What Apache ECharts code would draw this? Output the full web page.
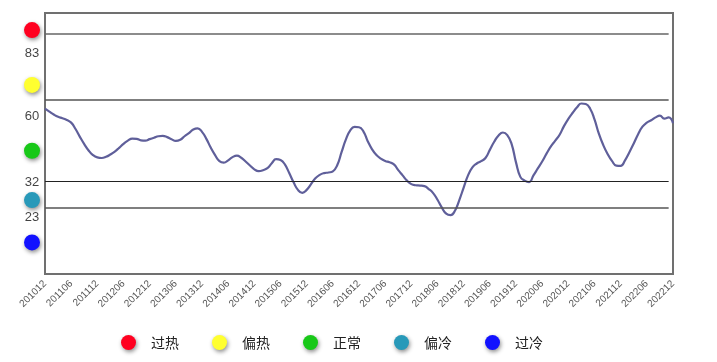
<!DOCTYPE html>
<html><head><meta charset="utf-8">
<script src="https://cdn.jsdelivr.net/npm/echarts@6/dist/echarts.min.js"></script>
<style>html,body{margin:0;padding:0;background:#fff}#c{width:717px;height:362px}</style>
</head><body><div id="c"></div>
<script>
// months 201012 .. 202212
const categories = [];
for (let y = 2010, m = 12; y < 2023; ) {
  categories.push(String(y) + String(m).padStart(2, '0'));
  m++; if (m > 12) { m = 1; y++; }
}
const indexValues = [
  57.0,56.0,55.0,54.2,53.7,53.1,52.2,50.0,47.3,44.8,
  42.6,41.0,40.2,40.0,40.4,41.2,42.2,43.5,44.9,46.0,
  46.7,46.6,46.1,46.0,46.5,47.0,47.5,47.6,47.2,46.5,
  45.9,46.3,47.5,48.6,49.8,50.2,49.0,46.6,43.6,41.0,
  38.9,38.4,39.2,40.3,40.8,40.1,38.8,37.4,36.1,35.5,
  35.8,36.5,38.2,39.6,39.3,37.8,34.8,31.6,29.0,28.0,
  29.0,31.0,33.0,34.2,34.8,35.0,35.4,37.5,42.0,46.4,
  49.5,50.7,50.6,49.2,45.8,43.0,41.0,39.8,39.0,38.5,
  37.8,35.8,34.0,32.2,31.0,30.6,30.5,30.3,29.3,27.9,
  25.6,22.9,20.8,20.3,21.8,25.5,29.8,34.0,36.8,38.1,
  38.9,40.0,42.8,45.6,47.8,48.8,47.9,44.8,38.5,33.5,
  32.2,31.7,34.0,36.4,38.8,41.5,44.0,46.0,48.0,51.0,
  53.5,55.6,57.5,58.8,58.6,57.0,53.3,48.4,44.5,41.4,
  39.0,37.4,37.3,39.2,42.0,45.0,48.2,50.8,52.2,53.0,
  54.0,54.6,53.6,54.0,52.0
];
const thresholds = [83, 60, 32, 23];
const thresholdLabelPos = [76.1, 54.5, 31.5, 19.6];
const levelNames = ['过热', '偏热', '正常', '偏冷', '过冷'];
const levelDotPos = [84.1, 65.2, 42.5, 25.5, 10.9];
const levelColors = ['#ff0020', '#ffff30', '#18c818', '#2899b9', '#1212ff'];
const yMax = 90;

const chart = echarts.init(document.getElementById('c'), null, {renderer: 'canvas'});
const thrStyle = [
  {color: '#666', width: 1.5},
  {color: '#555', width: 1.5},
  {color: '#222', width: 1.2},
  {color: '#555', width: 1.5}
];
const series = [{
  type: 'line', name: 'index', xAxisIndex: 0, yAxisIndex: 0,
  data: indexValues, smooth: true, showSymbol: false, symbol: 'none',
  lineStyle: {color: '#5f5f9a', width: 2.2}, z: 3,
  markLine: {
    silent: true, symbol: 'none', label: {show: false},
    data: thresholds.map((t, i) => [
      {coord: [0, t], lineStyle: {color: thrStyle[i].color, width: thrStyle[i].width, type: 'solid'}},
      {coord: [143, t]}
    ])
  }
}];
levelNames.forEach((n, i) => {
  series.push({
    type: 'scatter', name: n, xAxisIndex: 1, yAxisIndex: 1,
    data: [[0.5, levelDotPos[i]]], symbol: 'circle', symbolSize: 16,
    itemStyle: {color: levelColors[i], opacity: 1, shadowBlur: 4, shadowColor: 'rgba(0,0,0,0.45)', shadowOffsetX: 1, shadowOffsetY: 2},
    silent: true
  });
});
series.push({
  type: 'scatter', name: 'labels', xAxisIndex: 1, yAxisIndex: 1,
  data: thresholds.map((t, i) => ({value: [0.5, thresholdLabelPos[i]], name: String(t)})),
  symbolSize: 0, silent: true,
  label: {show: true, position: 'inside', formatter: p => p.name, color: '#111', fontSize: 13, fontFamily: 'Liberation Sans, Arial'}
});

chart.setOption({
  animation: false,
  backgroundColor: '#fff',
  grid: [
    {left: 45, right: 44, top: 13, bottom: 88, show: true, borderColor: '#707070', borderWidth: 2, backgroundColor: 'transparent'},
    {left: 20, width: 24, top: 13, bottom: 88}
  ],
  xAxis: [
    {type: 'category', gridIndex: 0, data: categories, boundaryGap: false,
     axisLine: {show: false}, axisTick: {show: false}, splitLine: {show: false},
     axisLabel: {interval: 5, rotate: 45, fontSize: 10, color: '#555', margin: 8, fontFamily: 'Liberation Sans, Arial'}},
    {type: 'value', gridIndex: 1, min: 0, max: 1, show: false}
  ],
  yAxis: [
    {type: 'value', gridIndex: 0, min: 0, max: yMax, show: false, splitLine: {show: false}},
    {type: 'value', gridIndex: 1, min: 0, max: yMax, show: false}
  ],
  legend: {
    data: levelNames, left: 116, top: 330, icon: 'circle', itemWidth: 17, itemHeight: 15, itemGap: 33,
    textStyle: {fontSize: 14, color: '#222', fontFamily: 'Noto Sans CJK SC', padding: [0, 0, 0, 9]},
    itemStyle: {opacity: 1, shadowBlur: 4, shadowColor: 'rgba(0,0,0,0.45)', shadowOffsetX: 1, shadowOffsetY: 2},
    selectedMode: false
  },
  series: series
});
</script></body></html>
